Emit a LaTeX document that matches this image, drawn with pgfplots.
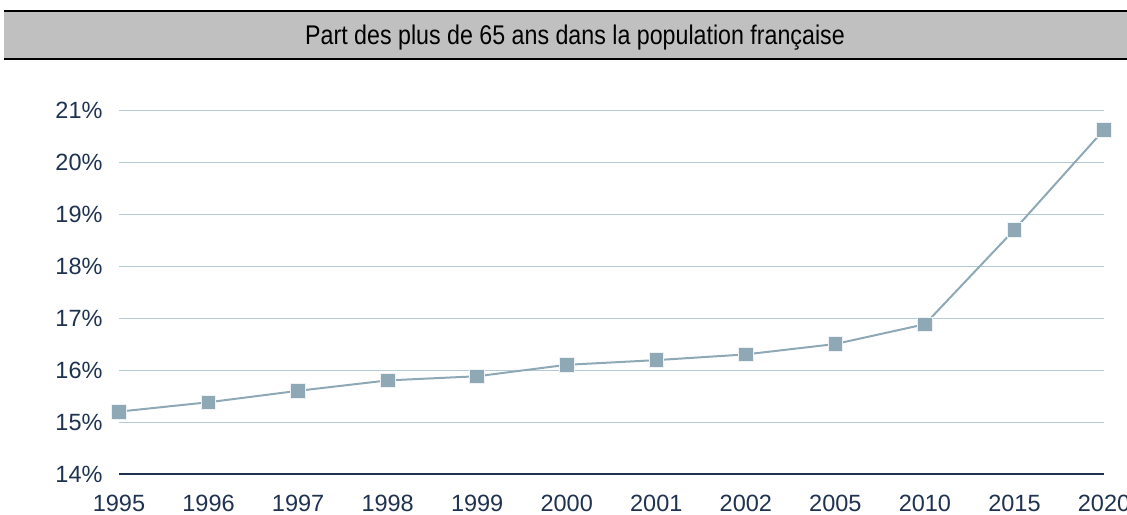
\documentclass[border=0pt]{standalone}
\usepackage{pgfplots}
\pgfplotsset{compat=1.18}
\usepackage{fontspec}
\setmainfont{Liberation Sans}
\newfontfamily\titlefont[FakeStretch=0.86]{Liberation Sans}
\definecolor{navy}{HTML}{1F3350}
\definecolor{linec}{HTML}{8EA9B5}
\definecolor{gridc}{HTML}{B4CAD6}
\definecolor{barc}{HTML}{C0C0C0}
\begin{document}
\begin{tikzpicture}[x=1bp,y=1bp]
\useasboundingbox (0,0) rectangle (1127,-515);
\fill[barc] (4,-11) rectangle (1127,-59);
\draw[black, line width=2.5bp] (4,-11) -- (1127,-11);
\draw[black, line width=2.5bp] (4,-59) -- (1127,-59);
\node[font=\titlefont\fontsize{27bp}{30bp}\selectfont, text=black, inner sep=0, anchor=base] at (575,-45) {Part des plus de 65 ans dans la population française};
\begin{axis}[
  at={(119bp,-474bp)}, anchor=south west,
  scale only axis, width=985bp, height=364bp,
  xmin=0, xmax=11, ymin=14, ymax=21,
  clip=false,
  axis x line*=bottom,
  axis y line*=left,
  x axis line style={navy, line width=2.5bp, -},
  y axis line style={draw=none},
  major tick length=0,
  xtick={0,...,11},
  xticklabels={1995,1996,1997,1998,1999,2000,2001,2002,2005,2010,2015,2020},
  ytick={14,...,21},
  yticklabel={\pgfmathprintnumber{\tick}\%},
  /pgf/number format/assume math mode=true,
  ymajorgrids,
  grid style={gridc, line width=1bp},
  tick label style={font=\fontsize{23.5bp}{26bp}\selectfont, text=navy},
  yticklabel style={xshift=-13bp},
  xticklabel style={yshift=-18bp},
]
\addplot[linec, line width=2bp, mark=square*, mark size=7.3bp,
  mark options={fill=linec, draw=white!85!linec, line width=0.8bp}]
  coordinates {
  (0,15.2) (1,15.38) (2,15.6) (3,15.8) (4,15.88) (5,16.1)
  (6,16.19) (7,16.3) (8,16.5) (9,16.88) (10,18.7) (11,20.62)
  };
\end{axis}
\end{tikzpicture}
\end{document}
